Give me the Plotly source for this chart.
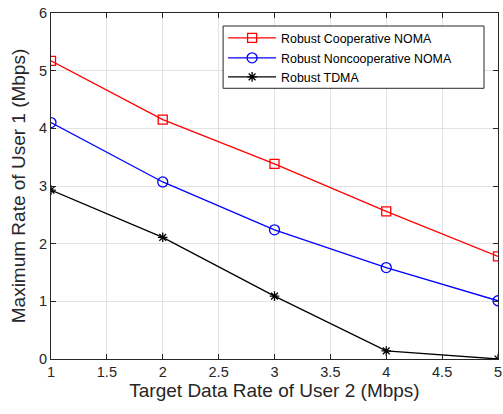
import plotly.graph_objects as go

target_rate = [1, 2, 3, 4, 5]
coop_noma = [5.17, 4.15, 3.385, 2.56, 1.78]
noncoop_noma = [4.10, 3.07, 2.24, 1.585, 1.01]
tdma = [2.93, 2.11, 1.09, 0.14, 0.0]

names = ["Robust Cooperative NOMA", "Robust Noncooperative NOMA", "Robust TDMA"]
colors = ["#ff0000", "#0000ff", "#000000"]
symbols = ["square-open", "circle-open", "asterisk-open"]
sizes = [9, 10, 8]
legend_ids = ["legend", "legend2", "legend3"]
legend_rows = [0.9269, 0.8691, 0.8142]

fig = go.Figure()
for name, ys, c, s, sz, lg in zip(names, [coop_noma, noncoop_noma, tdma], colors, symbols, sizes, legend_ids):
    fig.add_trace(go.Scatter(
        x=target_rate, y=ys, name=name, mode="lines+markers", legend=lg,
        line=dict(color=c, width=1.3),
        marker=dict(symbol=s, size=sz, color=c, line=dict(color=c, width=1.3)),
    ))

axis_common = dict(
    showline=True, linecolor="#262626", linewidth=1, mirror="allticks",
    ticks="inside", ticklen=5, tickcolor="#262626",
    showgrid=True, gridcolor="#e3e3e3", gridwidth=1,
    zeroline=False, automargin=False,
    tickfont=dict(family="Liberation Sans, Arial", size=14.5, color="#262626"),
)

fig.update_layout(
    width=503, height=414,
    margin=dict(l=51, r=5, t=13, b=55),
    paper_bgcolor="white", plot_bgcolor="white",
    font=dict(family="Liberation Sans, Arial", color="#262626"),
    xaxis=dict(range=[1, 5], dtick=0.5,
               title=dict(text="Target Data Rate of User 2 (Mbps)", font=dict(size=19), standoff=2),
               **axis_common),
    yaxis=dict(range=[0, 6], dtick=1,
               title=dict(text="Maximum Rate of User 1 (Mbps)", font=dict(size=19), standoff=8),
               **axis_common),
    showlegend=True,
    shapes=[dict(type="rect", xref="paper", yref="paper",
                 x0=0.385, x1=0.9687, y0=0.7824, y1=0.9624,
                 line=dict(color="#262626", width=1), fillcolor="white", layer="above")],
)
for lg, yr in zip(legend_ids, legend_rows):
    fig.update_layout({lg: dict(x=0.385, y=yr, xanchor="left", yanchor="middle",
                                bgcolor="rgba(0,0,0,0)", borderwidth=0,
                                font=dict(size=12.4, color="#000000"), itemwidth=48)})

# remove the default 8px page margin so the figure fills the window exactly
fig.write_html("out.html", config={"displayModeBar": False},
               post_script="document.body.style.margin='0';")
